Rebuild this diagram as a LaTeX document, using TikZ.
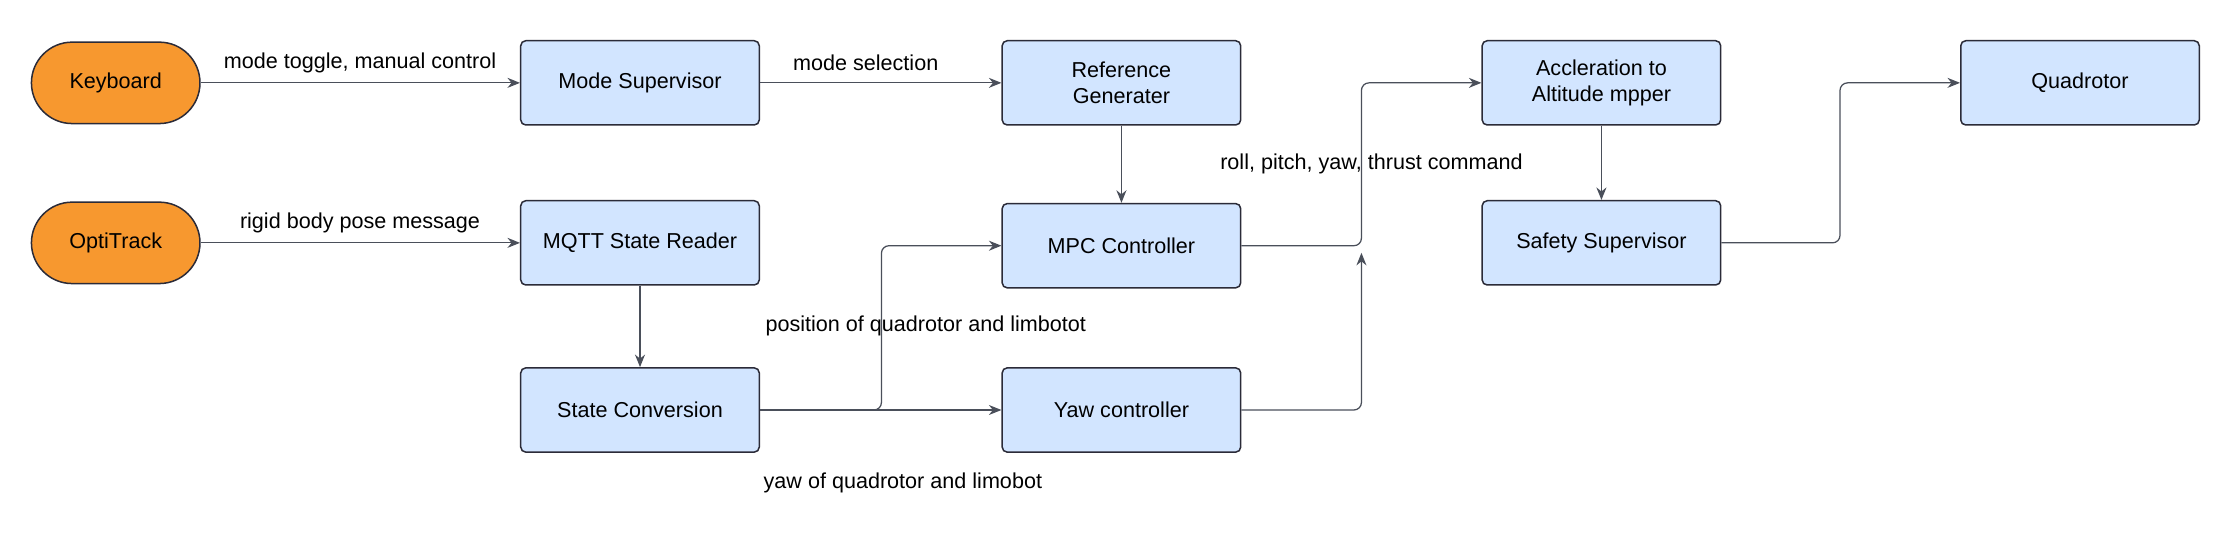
\documentclass[tikz,border=0pt]{standalone}
\usepackage{fontspec}
\setmainfont{Liberation Sans}
\usetikzlibrary{arrows.meta}
\definecolor{bfill}{HTML}{D2E5FF}
\definecolor{bline}{HTML}{2B2B38}
\definecolor{ofill}{HTML}{F7982F}
\definecolor{eline}{HTML}{4A4F5A}
\begin{document}
\begin{tikzpicture}[x=0.02cm,y=-0.02cm,
  box/.style={draw=bline,fill=bfill,rounded corners=2pt,minimum width=3.34cm,minimum height=1.18cm,align=center,font=\fontsize{8.6}{10.5}\selectfont,line width=0.6pt},
  term/.style={draw=bline,fill=ofill,rounded corners=0.57cm,minimum width=2.36cm,minimum height=1.14cm,font=\fontsize{8.6}{10.5}\selectfont,line width=0.6pt},
  edge/.style={draw=eline,line width=0.5pt,-{Stealth[length=5pt,width=4pt]},rounded corners=3pt},
  lab/.style={font=\fontsize{8.6}{10.5}\selectfont}]
\useasboundingbox (0,0) rectangle (1568,378);
\node[term] (kb) at (81,58) {Keyboard};
\node[term] (ot) at (81,170) {OptiTrack};
\node[box] (ms) at (448,58) {Mode Supervisor};
\node[box] (mq) at (448,170) {MQTT State Reader};
\node[box] (sc) at (448,287) {State Conversion};
\node[box] (rg) at (785,58) {Reference\\Generater};
\node[box] (mpc) at (785,172) {MPC Controller};
\node[box] (yaw) at (785,287) {Yaw controller};
\node[box] (acc) at (1121,58) {Accleration to\\Altitude mpper};
\node[box] (ss) at (1121,170) {Safety Supervisor};
\node[box] (qd) at (1456,58) {Quadrotor};
\coordinate (j) at (953,177);
\draw[edge] (kb) -- (ms);
\draw[edge] (ms) -- (rg);
\draw[edge] (ot) -- (mq);
\draw[edge] (mq) -- (sc);
\draw[edge] (rg) -- (mpc);
\draw[edge] (sc.east) -- (617,287) -- (617,172) -- (mpc.west);
\draw[edge] (sc) -- (yaw);
\draw[edge] (mpc.east) -- (953,172) -- (953,58) -- (acc.west);
\draw[edge] (yaw.east) -- (953,287) -- (j);
\draw[edge] (acc) -- (ss);
\draw[edge] (ss.east) -- (1288,170) -- (1288,58) -- (qd.west);
\node[lab] at (252,44) {mode toggle, manual control};
\node[lab] at (606,44) {mode selection};
\node[lab] at (252,156) {rigid body pose message};
\node[lab] at (648,228) {position of quadrotor and limbotot};
\node[lab] at (632,338) {yaw of quadrotor and limobot};
\node[lab] at (960,115) {roll, pitch, yaw, thrust command};
\end{tikzpicture}
\end{document}
